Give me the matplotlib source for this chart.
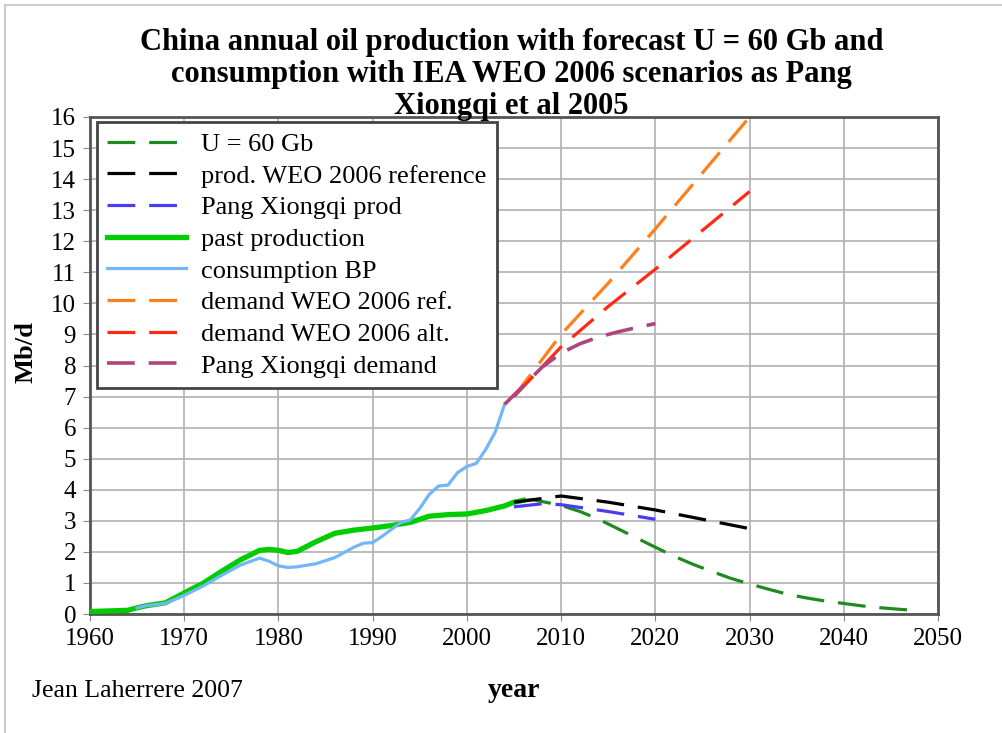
import numpy as np
import matplotlib
matplotlib.use('Agg')
import matplotlib.pyplot as plt
from matplotlib.lines import Line2D

plt.rcParams['font.family'] = ['Liberation Serif', 'DejaVu Serif']
plt.rcParams['lines.scale_dashes'] = False

# past production (Mb/d)
prod_years = [1960, 1962, 1964, 1965, 1966, 1968, 1970, 1972, 1974, 1976, 1978, 1979, 1980, 1981, 1982,
              1984, 1986, 1988, 1990, 1992, 1994, 1996, 1998, 2000, 2002, 2004, 2005, 2006]
prod_vals = [0.08, 0.1, 0.12, 0.2, 0.27, 0.36, 0.68, 0.99, 1.38, 1.75, 2.05, 2.08, 2.05, 1.98, 2.02,
             2.33, 2.6, 2.7, 2.77, 2.85, 2.95, 3.15, 3.2, 3.22, 3.33, 3.48, 3.6, 3.66]

# consumption BP (Mb/d)
cons_years = [1965, 1966, 1968, 1970, 1972, 1974, 1976, 1978, 1979, 1980, 1981, 1982, 1984, 1986,
              1988, 1989, 1990, 1991, 1993, 1994, 1995, 1996, 1997, 1998, 1999, 2000, 2001, 2002,
              2003, 2004]
cons_vals = [0.2, 0.27, 0.34, 0.6, 0.9, 1.25, 1.58, 1.8, 1.7, 1.55, 1.5, 1.52, 1.62, 1.82,
             2.15, 2.28, 2.3, 2.5, 2.95, 3.03, 3.4, 3.85, 4.12, 4.15, 4.55, 4.75, 4.85, 5.3,
             5.85, 6.75]

# forecast U = 60 Gb
u60_years = [2006, 2007, 2008, 2010, 2012, 2014, 2016, 2018, 2020, 2022, 2024, 2026, 2028, 2030,
             2032, 2034, 2036, 2038, 2040, 2042, 2044, 2046, 2048]
u60_vals = [3.65, 3.68, 3.62, 3.5, 3.3, 3.05, 2.75, 2.45, 2.15, 1.86, 1.6, 1.37, 1.15, 0.97,
            0.8, 0.64, 0.52, 0.42, 0.34, 0.26, 0.2, 0.15, 0.11]

# production WEO 2006 reference
weo_prod_years = [2005, 2010, 2015, 2020, 2025, 2030]
weo_prod_vals = [3.6, 3.8, 3.6, 3.35, 3.05, 2.75]

# Pang Xiongqi production
pang_prod_years = [2005, 2008, 2010, 2015, 2020]
pang_prod_vals = [3.45, 3.55, 3.52, 3.3, 3.05]

# demand WEO 2006 reference / alternative
dem_years = [2005, 2010, 2015, 2020, 2025, 2030]
dem_ref_vals = [7.0, 9.0, 10.65, 12.4, 14.2, 16.0]
dem_alt_vals = [7.0, 8.6, 9.9, 11.1, 12.35, 13.6]

# Pang Xiongqi demand
pang_dem_years = [2004, 2006, 2008, 2010, 2012, 2014, 2016, 2018, 2020]
pang_dem_vals = [6.75, 7.35, 7.95, 8.4, 8.7, 8.92, 9.08, 9.22, 9.35]

fig = plt.figure(figsize=(10.03, 7.33), dpi=100)
ax = fig.add_axes([0.0897, 0.1623, 0.8455, 0.6781])

dash = (20, 10)
ax.plot(u60_years, u60_vals, color='#1f8a1f', lw=2.3, dashes=dash, label='U = 60 Gb', zorder=4)
ax.plot(weo_prod_years, weo_prod_vals, color='black', lw=2.3, dashes=dash,
        label='prod. WEO 2006 reference', zorder=4)
ax.plot(pang_prod_years, pang_prod_vals, color='#4a3cf0', lw=2.3, dashes=dash,
        label='Pang Xiongqi prod', zorder=4)
ax.plot(prod_years, prod_vals, color='#00cc00', lw=3.8, label='past production', zorder=3)
ax.plot(cons_years, cons_vals, color='#72b6f5', lw=2.3, label='consumption BP', zorder=3)
ax.plot(dem_years, dem_ref_vals, color='#ff7f1a', lw=2.3, dashes=dash,
        label='demand WEO 2006 ref.', zorder=4)
ax.plot(dem_years, dem_alt_vals, color='#ff2a14', lw=2.3, dashes=dash,
        label='demand WEO 2006 alt.', zorder=4)
ax.plot(pang_dem_years, pang_dem_vals, color='#b0447e', lw=2.6, dashes=dash,
        label='Pang Xiongqi demand', zorder=5)

ax.set_xlim(1960, 2050)
ax.set_ylim(0, 16)
ax.set_xticks(np.arange(1960, 2051, 10))
ax.set_yticks(np.arange(0, 17, 1))
ax.grid(True, color='#b0b0b0', lw=1.2)
ax.tick_params(labelsize=18, length=5, color='#888888', pad=5)
for s in ax.spines.values():
    s.set_color('#555555')
    s.set_linewidth(2)

ax.set_xlabel('year', fontsize=20, fontweight='bold')
ax.xaxis.set_label_coords(0.5, -0.128)
ax.set_ylabel('Mb/d', fontsize=19, fontweight='bold')
ax.yaxis.set_label_coords(-0.062, 0.527)

fig.suptitle('China annual oil production with forecast U = 60 Gb and\n'
             'consumption with IEA WEO 2006 scenarios as Pang\n'
             'Xiongqi et al 2005', x=0.51, y=0.962, fontsize=22, fontweight='bold',
             linespacing=1.13)

leg = ax.legend(loc='upper left', bbox_to_anchor=(0.008, 0.99), borderaxespad=0,
                fontsize=19, handlelength=3.0, labelspacing=0.31, fancybox=False,
                framealpha=1, borderpad=0.4, handletextpad=0.55)
leg.get_frame().set_edgecolor('#444444')
leg.get_frame().set_linewidth(2)

fig.text(0.032, 0.049, 'Jean Laherrere 2007', fontsize=18.5)

# faint outer border of the original picture
fig.add_artist(Line2D([0.005, 0.005], [0, 0.993], color='#cccccc', lw=1.5))
fig.add_artist(Line2D([0.005, 1.0], [0.993, 0.993], color='#cccccc', lw=1.5))

fig.savefig('out.png', dpi=100)
